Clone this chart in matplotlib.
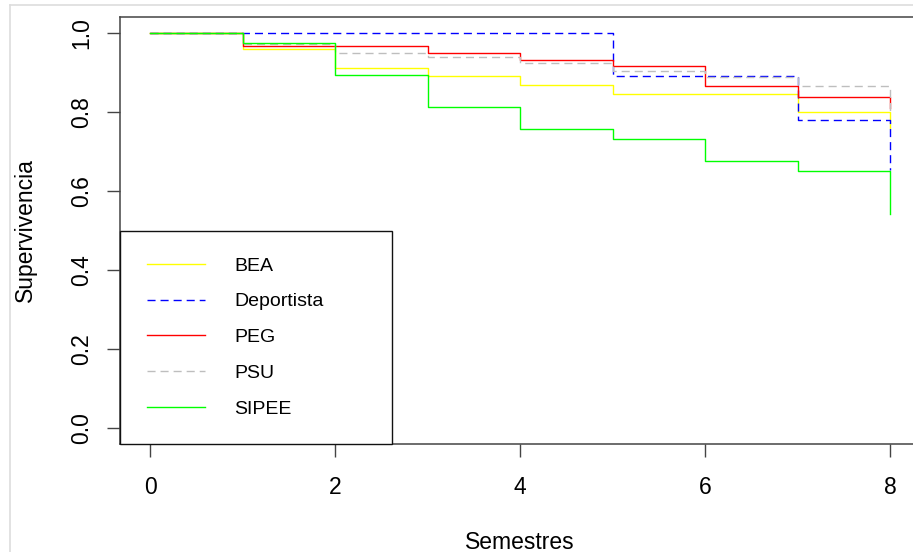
import matplotlib
matplotlib.use("Agg")
import matplotlib.pyplot as plt
from matplotlib.lines import Line2D
import numpy as np

plt.rcParams['font.family'] = ['Liberation Sans', 'DejaVu Sans']

# tiempos (semestres) y curvas de supervivencia
semestres = [0, 1, 2, 3, 4, 5, 6, 7, 8]
bea = [1.0, 0.959, 0.912, 0.890, 0.868, 0.846, 0.846, 0.801, 0.760]
deportista = [1.0, 1.0, 1.0, 1.0, 1.0, 0.890, 0.890, 0.779, 0.653]
peg = [1.0, 0.968, 0.968, 0.949, 0.931, 0.916, 0.865, 0.839, 0.810]
psu = [1.0, 0.971, 0.949, 0.938, 0.923, 0.905, 0.889, 0.867, 0.800]
sipee = [1.0, 0.974, 0.894, 0.813, 0.757, 0.731, 0.676, 0.651, 0.542]

grupos = ["BEA", "Deportista", "PEG", "PSU", "SIPEE"]
colores = ["#FFFF00", "#0000FF", "#FF0000", "#BEBEBE", "#00FF00"]
dash = (0, (5.8, 3.6))
estilos = ["-", dash, "-", dash, "-"]

fig = plt.figure(figsize=(9.13, 5.52), dpi=100)
W, H = 913.0, 552.0
ax = fig.add_axes([120.4 / W, 1 - 443.8 / H, 799.2 / W, 426.6 / H])

curvas = [bea, deportista, peg, psu, sipee]
for y, c, ls, name in zip(curvas, colores, estilos, grupos):
    ax.plot(semestres, y, drawstyle="steps-post", color=c, linestyle=ls,
            linewidth=1.0, label=name)

ax.set_xlim(-0.32, 8.32)
ax.set_ylim(-0.04, 1.04)
ax.set_xticks([0, 2, 4, 6, 8])
ax.set_yticks([0.0, 0.2, 0.4, 0.6, 0.8, 1.0])
ax.set_yticklabels(["0.0", "0.2", "0.4", "0.6", "0.8", "1.0"], rotation=90, va="center")

for s in ax.spines.values():
    s.set_color("#444444")
    s.set_linewidth(1.1)
ax.tick_params(axis="both", length=9.4, width=1.0, color="#444444", labelsize=16.5)
ax.tick_params(axis="x", pad=14)
ax.tick_params(axis="y", pad=10)

ax.set_xlabel("Semestres", fontsize=16.5, labelpad=23)
ax.set_ylabel("Supervivencia", fontsize=16.5, labelpad=24)

leg = ax.legend(loc="lower left", bbox_to_anchor=(0, 0, (392 - 120.4) / 799.2, 0.5),
                mode="expand", borderaxespad=0, fancybox=False, fontsize=14,
                handlelength=3.0, handletextpad=1.5, borderpad=1.35, labelspacing=0.93)
leg.get_frame().set_edgecolor("#111111")
leg.get_frame().set_linewidth(1.0)
leg.get_frame().set_alpha(1)

# marco gris claro de la captura
fig.add_artist(Line2D([10 / W, 10 / W], [0, 1 - 5 / H], color="#DDDDDD", linewidth=1.2))
fig.add_artist(Line2D([10 / W, 1], [1 - 5 / H, 1 - 5 / H], color="#DDDDDD", linewidth=1.2))

fig.savefig("out.png", dpi=100)
